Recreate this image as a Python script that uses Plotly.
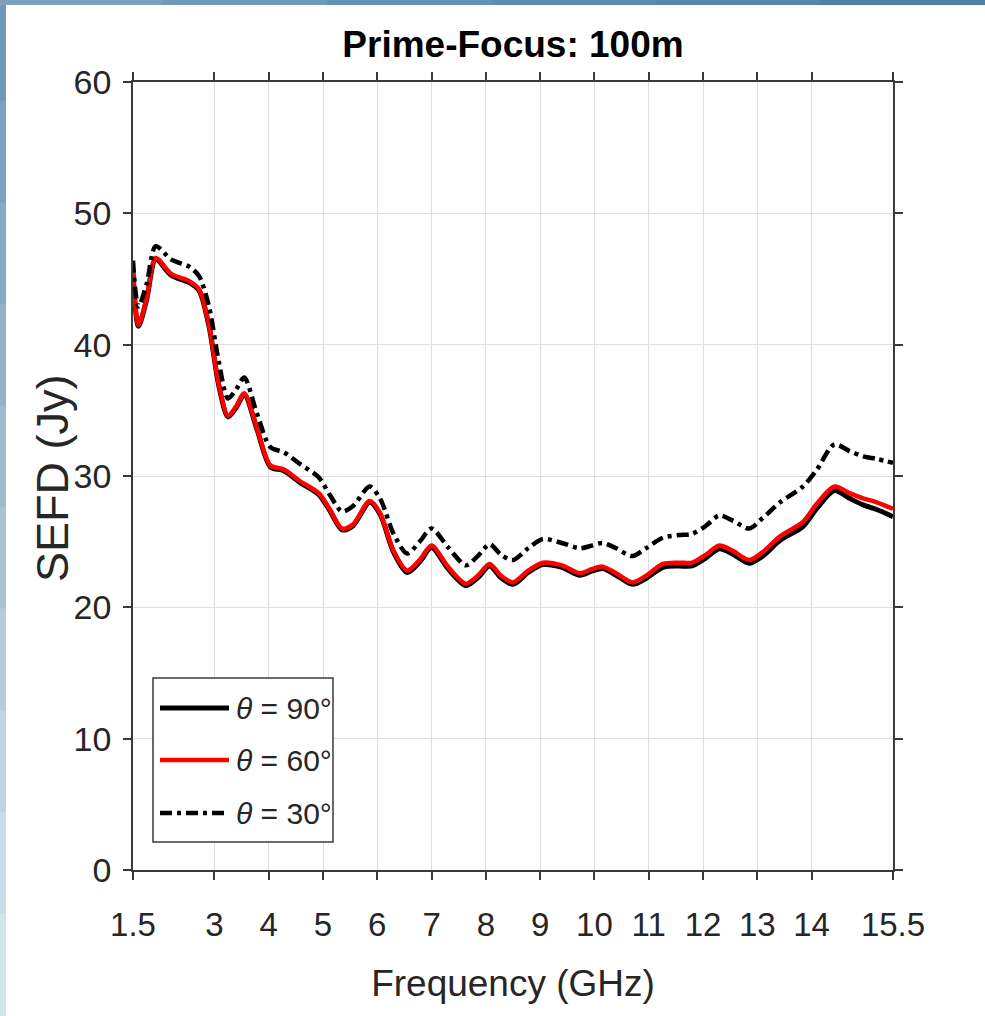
import plotly.graph_objects as go

# ---------------- data ----------------
freq_ghz = [1.5, 1.6, 1.75, 1.92, 2.2, 2.55, 2.72, 2.9, 3.08, 3.25, 3.4, 3.55, 3.78, 4.03, 4.28,
            4.58, 4.92, 5.12, 5.35, 5.55, 5.86, 6.05, 6.3, 6.55, 6.78, 7.0, 7.3, 7.63, 7.85, 8.07,
            8.28, 8.5, 8.78, 9.05, 9.4, 9.73, 9.95, 10.15, 10.4, 10.7, 10.95, 11.26, 11.55, 11.8,
            12.05, 12.3, 12.55, 12.85, 13.1, 13.42, 13.84, 14.1, 14.42, 14.7, 14.95, 15.2, 15.5]

sefd_theta90 = [45.5, 41.4, 43.4, 46.5, 45.3, 44.7, 44.1, 41.4, 36.9, 34.5, 35.2, 36.2, 33.6, 30.7, 30.4,
                29.5, 28.6, 27.4, 25.9, 26.2, 28.0, 27.1, 24.2, 22.65, 23.45, 24.55, 22.95, 21.65, 22.25, 23.15,
                22.25, 21.75, 22.65, 23.25, 23.05, 22.45, 22.75, 22.95, 22.45, 21.75, 22.2, 23.05, 23.15, 23.15,
                23.75, 24.45, 24.05, 23.35, 23.9, 25.1, 26.15, 27.55, 28.9, 28.3, 27.8, 27.45, 26.9]

sefd_theta60 = [45.6, 41.5, 43.5, 46.6, 45.4, 44.8, 44.2, 41.5, 37.0, 34.6, 35.3, 36.3, 33.7, 30.8, 30.5,
                29.6, 28.7, 27.5, 26.0, 26.3, 28.1, 27.2, 24.3, 22.8, 23.6, 24.7, 23.1, 21.8, 22.4, 23.3,
                22.4, 21.9, 22.8, 23.4, 23.2, 22.6, 22.9, 23.1, 22.6, 21.9, 22.4, 23.3, 23.4, 23.4,
                24.0, 24.7, 24.3, 23.6, 24.2, 25.4, 26.5, 27.9, 29.2, 28.7, 28.3, 28.0, 27.5]

sefd_theta30 = [46.4, 42.9, 44.6, 47.5, 46.5, 45.9, 45.2, 42.9, 38.7, 35.9, 36.6, 37.5, 34.8, 32.2, 31.8,
                30.9, 29.9, 28.6, 27.3, 27.7, 29.2, 28.3, 25.6, 24.1, 25.0, 26.0, 24.6, 23.2, 23.9, 24.8,
                24.0, 23.6, 24.5, 25.2, 24.9, 24.5, 24.7, 24.9, 24.5, 23.9, 24.5, 25.3, 25.5, 25.6,
                26.2, 27.0, 26.6, 26.0, 26.8, 28.0, 29.2, 30.5, 32.4, 31.9, 31.5, 31.3, 31.0]

series_names = ["<i>θ</i> = 90°", "<i>θ</i> = 60°", "<i>θ</i> = 30°"]
x_tick_vals = [1.5, 3, 4, 5, 6, 7, 8, 9, 10, 11, 12, 13, 14, 15.5]
x_tick_text = ["1.5", "3", "4", "5", "6", "7", "8", "9", "10", "11", "12", "13", "14", "15.5"]
y_tick_vals = [0, 10, 20, 30, 40, 50, 60]

# ---------------- layout geometry ----------------
W, H = 985, 1016
L, R, T, B = 133, 92, 82, 146
PW, PH = W - L - R, H - T - B


def px2x(px):
    return (px - L) / PW


def py2y(py):
    return (H - B - py) / PH


FONT = "Liberation Sans Narrow, Arial Narrow, Liberation Sans, Arial, sans-serif"
AX = "#3a3a3a"
TXT = "#262626"

fig = go.Figure()
styles = [
    dict(color="black", width=5, dash="solid"),
    dict(color="#ff0000", width=4.5, dash="solid"),
    dict(color="black", width=4.5, dash="12px,5px,4px,5px"),
]
for name, ys, st in zip(series_names, [sefd_theta90, sefd_theta60, sefd_theta30], styles):
    fig.add_trace(go.Scatter(x=freq_ghz, y=ys, mode="lines", name=name,
                             line=dict(color=st["color"], width=st["width"], dash=st["dash"],
                                       shape="spline", smoothing=0.8),
                             showlegend=False))

shapes = []
# slide background border (gradient approximations, segments overlap to avoid seams)
top_cols = ["#79a1bd", "#6f99b7", "#6693b2", "#5d8dae", "#5587aa", "#4f82a6"]
nseg = len(top_cols)
for i, c in enumerate(top_cols):
    shapes.append(dict(type="rect", xref="paper", yref="paper",
                       x0=px2x(W * i / nseg - 1), x1=px2x(W * (i + 1) / nseg + 1),
                       y0=py2y(5), y1=py2y(-1), fillcolor=c, line=dict(width=0), layer="below"))
left_cols = ["#6f98b7", "#7aa1bd", "#86aac3", "#92b2c9", "#9ebbcf", "#aac4d5", "#b6ccdb", "#c1d3e0", "#cbdbe6", "#d5e2ea"]
nseg = len(left_cols)
for i, c in enumerate(left_cols):
    shapes.append(dict(type="rect", xref="paper", yref="paper",
                       x0=px2x(-1), x1=px2x(6),
                       y0=py2y(H * (i + 1) / nseg + 1), y1=py2y(max(H * i / nseg - 1, 5)),
                       fillcolor=c, line=dict(width=0), layer="below"))

# legend box
shapes.append(dict(type="rect", xref="paper", yref="paper",
                   x0=px2x(153), x1=px2x(333), y0=py2y(842), y1=py2y(678),
                   fillcolor="white", line=dict(color=AX, width=1.5)))
annotations = []
leg_rows = [708, 760, 813]
for name, st, yy in zip(series_names, styles, leg_rows):
    shapes.append(dict(type="line", xref="paper", yref="paper",
                       x0=px2x(160), x1=px2x(229), y0=py2y(yy), y1=py2y(yy),
                       line=dict(color=st["color"], width=st["width"], dash=st["dash"])))
    annotations.append(dict(text=name, xref="paper", yref="paper", x=px2x(234), y=py2y(yy),
                            xanchor="left", yanchor="middle", showarrow=False,
                            font=dict(family=FONT, size=30, color=TXT)))

# y-axis title
annotations.append(dict(text="SEFD (Jy)", xref="paper", yref="paper", x=px2x(52), y=py2y(478),
                        xanchor="center", yanchor="middle", textangle=-90, showarrow=False,
                        font=dict(family=FONT, size=45, color=TXT)))

fig.update_layout(
    width=W, height=H,
    margin=dict(l=L, r=R, t=T, b=B, autoexpand=False),
    paper_bgcolor="white", plot_bgcolor="white",
    title=dict(text="<b>Prime-Focus: 100m</b>", x=0.5, xref="paper", xanchor="center",
               y=1 - 44 / H, yref="container", yanchor="middle",
               font=dict(family=FONT, size=37, color="black")),
    shapes=shapes, annotations=annotations,
    xaxis=dict(range=[1.5, 15.5], tickvals=x_tick_vals, ticktext=x_tick_text,
               showgrid=True, gridcolor="#dedede", gridwidth=1, zeroline=False,
               showline=True, linecolor=AX, linewidth=1.5, mirror="allticks",
               ticks="outside", ticklen=8, tickwidth=1.5, tickcolor=AX,
               tickfont=dict(family=FONT, size=33, color=TXT), ticklabelstandoff=17,
               title=dict(text="Frequency (GHz)", font=dict(family=FONT, size=37, color=TXT), standoff=28)),
    yaxis=dict(range=[0, 60], tickvals=y_tick_vals,
               showgrid=True, gridcolor="#dedede", gridwidth=1, zeroline=False,
               showline=True, linecolor=AX, linewidth=1.5, mirror="allticks",
               ticks="outside", ticklen=8, tickwidth=1.5, tickcolor=AX,
               tickfont=dict(family=FONT, size=34, color=TXT), ticklabelstandoff=5),
)

fig.write_html("out.html", config={"displayModeBar": False},
               post_script="document.body.style.margin='0px';")
